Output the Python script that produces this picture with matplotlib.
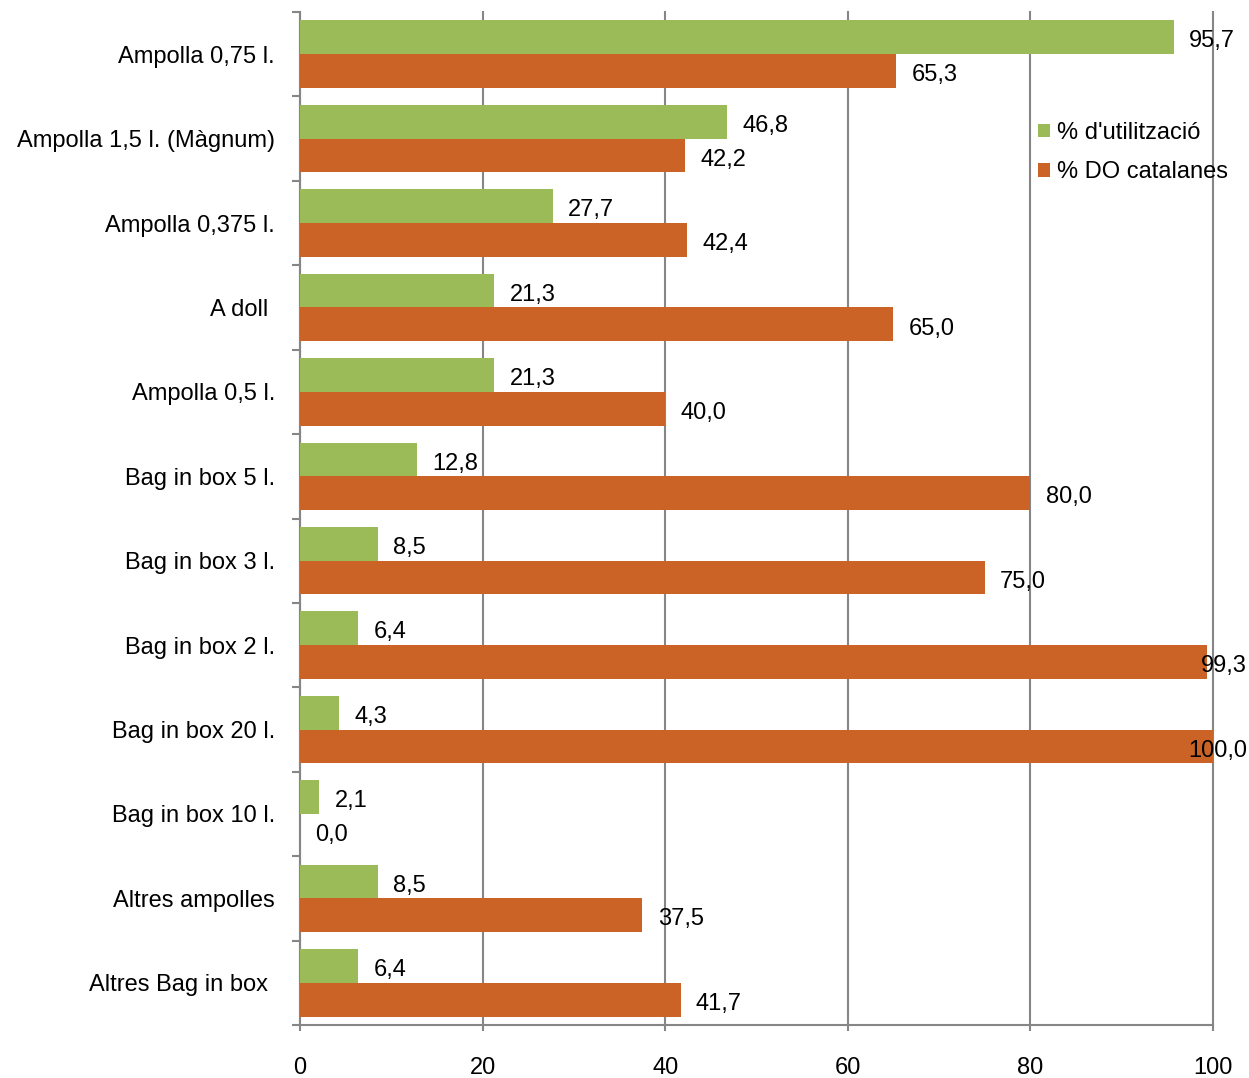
import matplotlib
matplotlib.use("Agg")
import matplotlib.pyplot as plt
import numpy as np

categories = ["Ampolla 0,75 l.", "Ampolla 1,5 l. (Màgnum)", "Ampolla 0,375 l.", "A doll ",
              "Ampolla 0,5 l.", "Bag in box 5 l.", "Bag in box 3 l.", "Bag in box 2 l.",
              "Bag in box 20 l.", "Bag in box 10 l.", "Altres ampolles", "Altres Bag in box "]
utilitzacio = [95.7, 46.8, 27.7, 21.3, 21.3, 12.8, 8.5, 6.4, 4.3, 2.1, 8.5, 6.4]
do_catalanes = [65.3, 42.2, 42.4, 65.0, 40.0, 80.0, 75.0, 99.3, 100.0, 0.0, 37.5, 41.7]
series_names = ["% d'utilització", "% DO catalanes"]
x_ticks = [0, 20, 40, 60, 80, 100]

plt.rcParams['font.family'] = ['Liberation Sans', 'DejaVu Sans']

green = "#9BBB59"
orange = "#CB6326"
grid_c = "#868686"
fs = 17

fig = plt.figure(figsize=(12.49, 10.78), dpi=100)
ax = fig.add_axes([300/1249, 53/1078, 913/1249, 1013/1078])

n = len(categories)
pos = np.arange(n)
h = 0.4
ax.barh(pos - h/2, utilitzacio, height=h, color=green, label=series_names[0], zorder=3)
ax.barh(pos + h/2, do_catalanes, height=h, color=orange, label=series_names[1], zorder=3)

def fmt(v):
    return f"{v:.1f}".replace(".", ",")

def put_label(v, y):
    if v > 97:
        # labels that would run past the edge are pulled back inside the figure
        ax.annotate(fmt(v), (1247/1249, y), xycoords=("figure fraction", "data"),
                    xytext=(0, -3), textcoords="offset points",
                    va="center", ha="right", fontsize=fs, zorder=5)
    else:
        ax.annotate(fmt(v), (v, y), xytext=(11, -3), textcoords="offset points",
                    va="center", ha="left", fontsize=fs, zorder=5)

for p, v in zip(pos, utilitzacio):
    put_label(v, p - h/2)
for p, v in zip(pos, do_catalanes):
    put_label(v, p + h/2)

ax.set_xlim(0, 100)
ax.set_ylim(n - 0.5, -0.5)
ax.set_xticks(x_ticks)
ax.set_xticklabels([str(t) for t in x_ticks], fontsize=fs)
ax.tick_params(axis="x", length=4, width=1.5, color=grid_c, pad=19)
ax.xaxis.grid(True, color=grid_c, linewidth=1.5, zorder=0)
for gl in ax.get_xgridlines():
    gl.set_clip_on(False)

# category labels at band centres, tick marks at band boundaries
ax.set_yticks(pos)
ax.set_yticklabels(categories, fontsize=fs)
ax.tick_params(axis="y", length=0, pad=18)
ax.set_yticks(np.arange(n + 1) - 0.5, minor=True)
ax.tick_params(axis="y", which="minor", length=6, width=1.5, color=grid_c)

for s in ["top", "right"]:
    ax.spines[s].set_visible(False)
for s in ["left", "bottom"]:
    ax.spines[s].set_color(grid_c)
    ax.spines[s].set_linewidth(1.5)

leg = ax.legend(loc="upper left", bbox_to_anchor=(0.785, 0.9126), frameon=False,
                fontsize=fs, handlelength=0.5, handleheight=0.5, handletextpad=0.3,
                labelspacing=0.75)

fig.savefig("out.png", dpi=100)
